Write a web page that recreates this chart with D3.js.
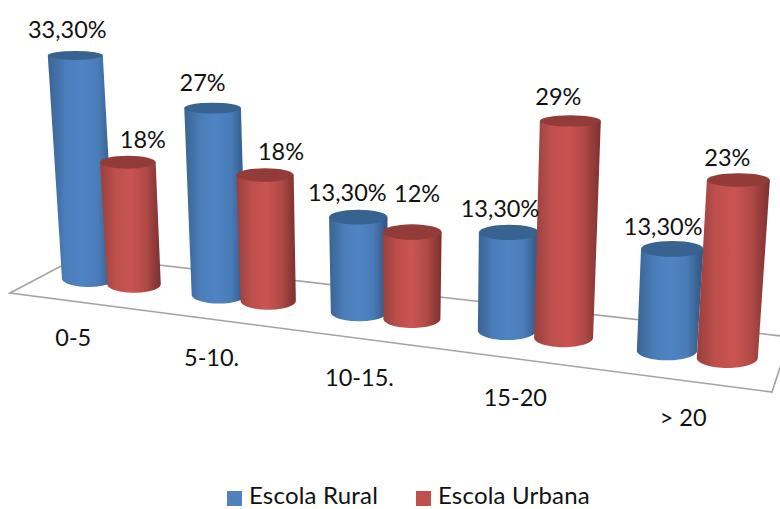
<!DOCTYPE html>
<html>
<head>
<meta charset="utf-8">
<script src="https://cdnjs.cloudflare.com/ajax/libs/d3/7.8.5/d3.min.js"></script>
<style>
html,body{margin:0;padding:0;background:#fff;overflow:hidden}
svg{display:block}
text{font-family:Lato,"Noto Sans",sans-serif;fill:#111}
</style>
</head>
<body>
<svg id="chart" width="780" height="509"></svg>
<script>
// ---- data ----
const categories = ["0-5", "5-10.", "10-15.", "15-20", "> 20"];
const seriesNames = ["Escola Rural", "Escola Urbana"];
const escolaRural = [33.3, 27, 13.3, 13.3, 13.3];
const escolaUrbana = [18, 18, 12, 29, 23];
const ruralLabels = ["33,30%", "27%", "13,30%", "13,30%", "13,30%"];
const urbanaLabels = ["18%", "18%", "12%", "29%", "23%"];

// ---- layout ----
const W = 780, H = 509;
const svg = d3.select("#chart").attr("viewBox", [0, 0, W, H]);

// Perspective: positions along the floor widen towards the viewer.
const groupX = d3.scaleLinear().domain(d3.range(5)).range([88.5, 219, 359, 507, 667]);
const seriesGap = d3.scaleLinear().domain([0, 4]).range([45.5, 60.3]);
const floorY = d3.scaleLinear().domain([88.5, 727]).range([278.5, 358]);
const unitsAt = d3.scaleLinear().domain([88.5, 727]).range([6.7, 7.74]);
const radiusAt = d3.scaleLinear().domain([88.5, 727]).range([26.5, 30.5]);
const ryAt = d3.scaleLinear().domain([0, 509]).range([3.5, 12.66]);
const vanishX = 400, lean = 1.9e-4;

// Hand placement of the value labels relative to each cylinder's top.
const labelNudgeX = [[-8, -10, -11, -9, -9], [15, 16, 5, -12, -11]];
const labelNudgeY = [[-17, -17, -16, -15, -14], [-14, -15, -30, -16, -14]];

const palette = [
  {stops: ["#3a6492", "#4a7cb8", "#4f84c4", "#4a7cb8", "#2f5480"], top: "#38628f", swatch: "#4F81BD"},
  {stops: ["#98403d", "#bd4f4c", "#ca5451", "#b04a47", "#7b302f"], top: "#923b39", swatch: "#C0504D"}
];

const defs = svg.append("defs");
palette.forEach((p, s) => {
  const g = defs.append("linearGradient").attr("id", "body" + s)
    .attr("x1", 0).attr("x2", 1).attr("y1", 0).attr("y2", 0);
  g.selectAll("stop").data(p.stops).join("stop")
    .attr("offset", (d, i) => [0, .25, .5, .75, 1][i])
    .attr("stop-color", d => d);
});

// ---- floor ----
const floor = [[10, 293], [80, 256], [790, 337], [772, 392]];
svg.append("path")
  .attr("d", d3.line()(floor) + "Z")
  .attr("fill", "#fff")
  .attr("stroke", "#a3a3a3")
  .attr("stroke-width", 1.6);

// ---- cylinders ----
const bars = [];
categories.forEach((c, i) => {
  [escolaRural, escolaUrbana].forEach((vals, s) => {
    const bx = groupX(i) + s * seriesGap(i);
    const by = floorY(bx);
    const valueH = d3.scaleLinear().domain([0, 1]).range([0, unitsAt(bx)]);
    const h = valueH(vals[i]);
    const tx = bx + (bx - vanishX) * h * lean;
    const ty = by - h;
    bars.push({i, s, bx, by, tx, ty, rb: radiusAt(bx), rt: radiusAt(bx) + 1,
               ryb: ryAt(by), ryt: ryAt(ty),
               label: (s ? urbanaLabels : ruralLabels)[i]});
  });
});

const barG = svg.selectAll("g.bar").data(bars).join("g").attr("class", "bar");
barG.append("path")
  .attr("fill", d => `url(#body${d.s})`)
  .attr("d", d => {
    const p = d3.path();
    p.moveTo(d.tx - d.rt, d.ty);
    p.lineTo(d.bx - d.rb, d.by);
    const n = 32;
    d3.range(1, n + 1).forEach(k => {
      const a = Math.PI - Math.PI * k / n;
      p.lineTo(d.bx + d.rb * Math.cos(a), d.by + d.ryb * Math.sin(a));
    });
    p.lineTo(d.tx + d.rt, d.ty);
    p.closePath();
    return p.toString();
  });
barG.append("ellipse")
  .attr("cx", d => d.tx).attr("cy", d => d.ty)
  .attr("rx", d => d.rt).attr("ry", d => d.ryt)
  .attr("fill", d => palette[d.s].top);

// ---- value labels ----
svg.selectAll("text.val").data(bars).join("text").attr("class", "val")
  .attr("x", d => d.tx + labelNudgeX[d.s][d.i])
  .attr("y", d => d.ty + labelNudgeY[d.s][d.i])
  .attr("text-anchor", "middle")
  .attr("font-size", 23.5)
  .text(d => d.label);

// ---- category labels ----
const catDx = d3.scaleLinear().domain([0, 4]).range([-38, -14]);
const catY = d3.scaleLinear().domain([0, 4]).range([346, 426]);
svg.selectAll("text.cat").data(categories).join("text").attr("class", "cat")
  .attr("x", (d, i) => groupX(i) + seriesGap(i) / 2 + catDx(i))
  .attr("y", (d, i) => catY(i))
  .attr("text-anchor", "middle")
  .attr("font-size", 23.5)
  .text(d => d);

// ---- legend ----
const legendX = d3.scaleOrdinal().domain(seriesNames).range([227, 416]);
const leg = svg.selectAll("g.leg").data(seriesNames).join("g").attr("class", "leg");
leg.append("rect")
  .attr("x", d => legendX(d)).attr("y", 491)
  .attr("width", 15).attr("height", 15)
  .attr("fill", (d, i) => palette[i].swatch);
leg.append("text")
  .attr("x", d => legendX(d) + 22).attr("y", 503.5)
  .attr("font-size", 24)
  .attr("letter-spacing", 0.2)
  .text(d => d);
</script>
</body>
</html>
